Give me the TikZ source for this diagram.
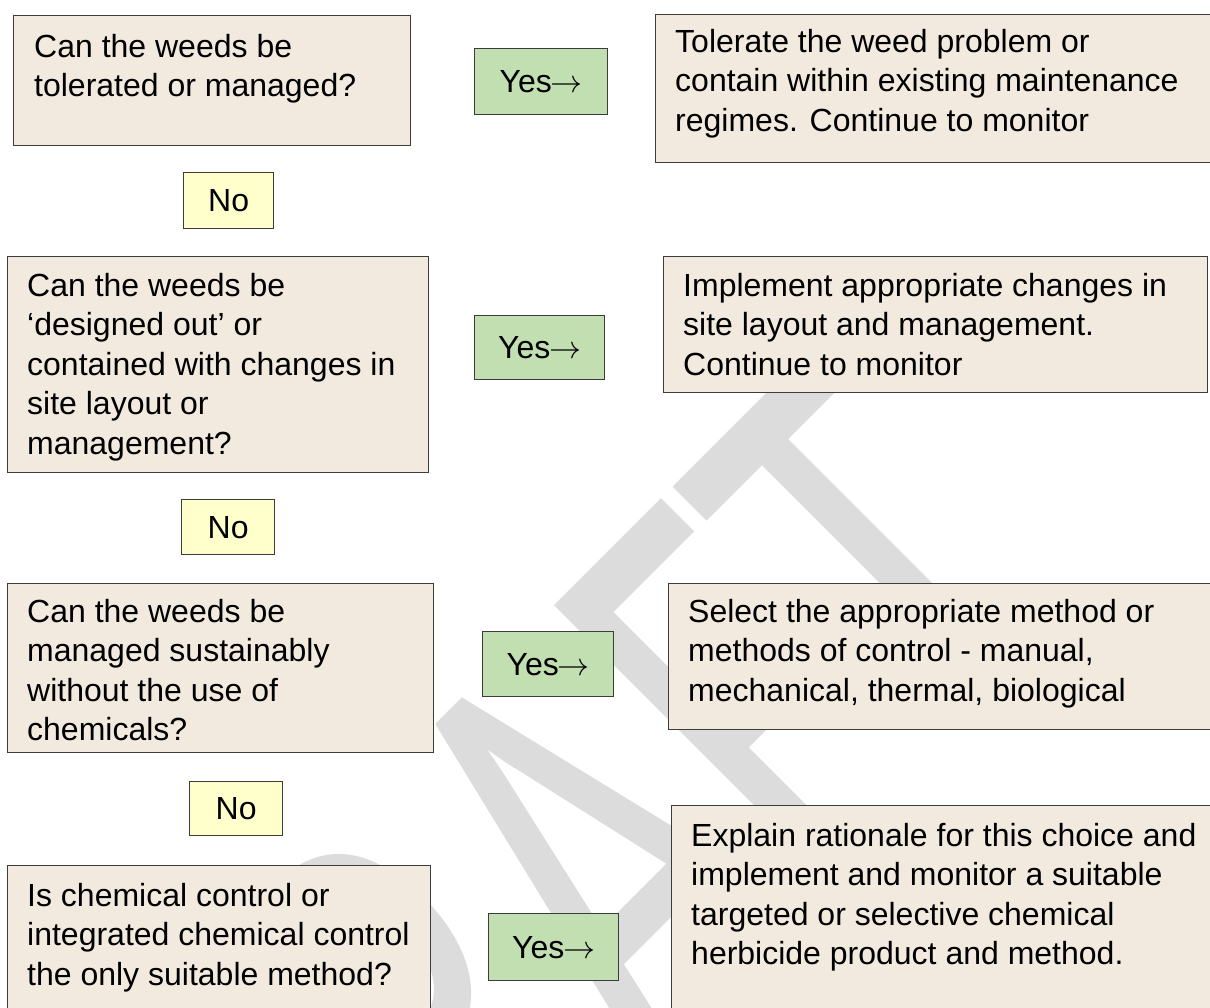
\documentclass[tikz,border=0pt]{standalone}
\usepackage{fix-cm}
\usepackage{graphicx}
\usepackage{fontspec}
\setmainfont{Liberation Sans}
\newfontfamily\wmfont{Carlito}
\definecolor{beige}{RGB}{242,234,223}
\definecolor{yesgreen}{RGB}{194,223,178}
\definecolor{noyellow}{RGB}{255,255,204}
\definecolor{wmgray}{RGB}{220,220,220}
\definecolor{edgecol}{RGB}{60,60,60}
\newcommand{\yesarrow}{Yes\kern-1pt$\rightarrow$}
\tikzset{
  box/.style={draw=edgecol, line width=1.4pt, inner sep=0pt, anchor=north west},
  qbox/.style={box, fill=beige},
  ybox/.style={box, fill=yesgreen, font=\fontsize{32}{39.5}\selectfont},
  nbox/.style={box, fill=noyellow, font=\fontsize{32}{39.5}\selectfont},
  txt/.style={anchor=north west, inner sep=0pt, align=left, font=\fontsize{32}{39.5}\selectfont},
  wm/.style={anchor=base, inner sep=0pt, rotate=45, text=wmgray, font=\wmfont\fontsize{417}{417}\selectfont}
}
\begin{document}
\begin{tikzpicture}[x=1pt,y=-1pt]
\useasboundingbox (0,0) rectangle (1210,1007);
\clip (0,0) rectangle (1210,1007);
\fill[white] (0,0) rectangle (1210,1007);
% watermark
\node[wm] (wm) at (713,1037) {\scalebox{1}[1.559]{DRAFT}};
% question boxes
\node[qbox, minimum width=397pt, minimum height=130pt] (q1) at (13,15) {};
\node[qbox, minimum width=421pt, minimum height=216pt] (q2) at (7,256) {};
\node[qbox, minimum width=426pt, minimum height=169pt] (q3) at (7,583) {};
\node[qbox, minimum width=423pt, minimum height=160pt] (q4) at (7,865) {};
% answer boxes
\node[qbox, minimum width=565pt, minimum height=148pt] (a1) at (655,14) {};
\node[qbox, minimum width=544pt, minimum height=136pt] (a2) at (663,256) {};
\node[qbox, minimum width=552pt, minimum height=146pt] (a3) at (668,583) {};
\node[qbox, minimum width=549pt, minimum height=220pt] (a4) at (671,805) {};
% yes boxes
\node[ybox, minimum width=133pt, minimum height=66pt] (y1) at (474,48) {\yesarrow};
\node[ybox, minimum width=130pt, minimum height=64pt] (y2) at (474,315) {\yesarrow};
\node[ybox, minimum width=131pt, minimum height=65pt] (y3) at (482,631) {\yesarrow};
\node[ybox, minimum width=130pt, minimum height=67pt] (y4) at (488,913) {\yesarrow};
% no boxes
\node[nbox, minimum width=90pt, minimum height=56pt] (n1) at (183,172) {No\hspace{7pt}};
\node[nbox, minimum width=93pt, minimum height=55pt] (n2) at (181,499) {No\hspace{7pt}};
\node[nbox, minimum width=93pt, minimum height=54pt] (n3) at (189,781) {No\hspace{7pt}};
% texts
\node[txt] (q1t) at (34,32) {\rule{0pt}{25pt}Can the weeds be\\tolerated or managed?};
\node[txt] (q2t) at (27,271) {\rule{0pt}{25pt}Can the weeds be\\‘designed out’ or\\contained with changes in\\site layout or\\management?};
\node[txt] (q3t) at (27,597) {\rule{0pt}{25pt}Can the weeds be\\managed sustainably\\without the use of\\chemicals?};
\node[txt] (q4t) at (27,881) {\rule{0pt}{25pt}Is chemical control or\\integrated chemical control\\the only suitable method?};
\node[txt] (a1t) at (675,27) {\rule{0pt}{25pt}Tolerate the weed problem or\\contain within existing maintenance\\regimes. Continue to monitor};
\node[txt] (a2t) at (683,271) {\rule{0pt}{25pt}Implement appropriate changes in\\site layout and management.\\Continue to monitor};
\node[txt] (a3t) at (688,597) {\rule{0pt}{25pt}Select the appropriate method or\\methods of control - manual,\\mechanical, thermal, biological};
\node[txt] (a4t) at (691,821) {\rule{0pt}{25pt}Explain rationale for this choice and\\implement and monitor a suitable\\targeted or selective chemical\\herbicide product and method.};
\end{tikzpicture}
\end{document}
